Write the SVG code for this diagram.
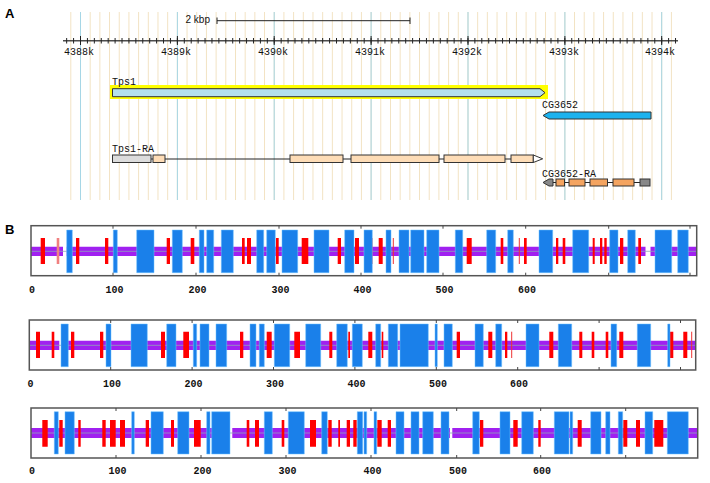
<svg xmlns="http://www.w3.org/2000/svg" width="710" height="483" viewBox="0 0 710 483">
<style>
.panel{font-family:"Liberation Sans",Arial,sans-serif;font-weight:bold;font-size:13px;fill:#000}
.lab{font-family:"Liberation Mono","DejaVu Sans Mono",monospace;font-size:10px;fill:#111}
.kb{font-family:"Liberation Sans",Arial,sans-serif;font-size:10px;fill:#111}
.num{font-family:"Liberation Mono","DejaVu Sans Mono",monospace;font-size:10px;font-weight:bold;fill:#111;text-anchor:middle}
.blg{stroke:#a6d6e6;stroke-width:1}
.ln{stroke:#222;stroke-width:1;fill:none}
.ex{stroke:#333;stroke-width:1}
.frame{fill:none;stroke:#555;stroke-width:1.5}
.pp{fill:#a020f0}
.cl{stroke:#8fa6b8;stroke-width:0.8}
.rd{fill:#f00}
.thin{stroke:#e33;stroke-width:1}
.bl{fill:#1a80ea;stroke:#6ec0ff;stroke-width:0.5}
.tk{stroke:#444;stroke-width:1}
</style>
<defs>
<pattern id="grid" patternUnits="userSpaceOnUse" x="80" y="0" width="9.687" height="10">
<rect x="0" y="0" width="1" height="10" fill="#f2e2c2"/>
</pattern>
<pattern id="ticks" patternUnits="userSpaceOnUse" x="80" y="0" width="6.919" height="10">
<rect x="0" y="0" width="1" height="10" fill="#222"/>
</pattern>
</defs>
<rect width="710" height="483" fill="#fff"/>

<!-- Panel A -->
<text class="panel" x="5" y="18">A</text>
<g id="grid-lines">
<rect x="70" y="12" width="604" height="188" fill="url(#grid)"/>
<line class="blg" x1="80.5" y1="12" x2="80.5" y2="200"/>
<line class="blg" x1="177.4" y1="12" x2="177.4" y2="200"/>
<line class="blg" x1="274.2" y1="12" x2="274.2" y2="200"/>
<line class="blg" x1="371.1" y1="12" x2="371.1" y2="200"/>
<line class="blg" x1="468" y1="12" x2="468" y2="200"/>
<line class="blg" x1="564.9" y1="12" x2="564.9" y2="200"/>
<line class="blg" x1="661.7" y1="12" x2="661.7" y2="200"/>
</g>
<g id="scale-bar">
<text class="kb" x="185.5" y="23">2 kbp</text>
<line class="ln" x1="217" y1="20.7" x2="410" y2="20.7"/>
<line class="ln" x1="217" y1="17.5" x2="217" y2="24"/>
<line class="ln" x1="410" y1="17.5" x2="410" y2="24"/>
</g>
<g id="ruler">
<rect x="63" y="38" width="615" height="5.5" fill="url(#ticks)"/>
<rect x="63" y="40.2" width="615" height="1.2" fill="#222"/>
<g class="ln">
<line x1="80.5" y1="36" x2="80.5" y2="45"/>
<line x1="177.4" y1="36" x2="177.4" y2="45"/>
<line x1="274.2" y1="36" x2="274.2" y2="45"/>
<line x1="371.1" y1="36" x2="371.1" y2="45"/>
<line x1="468" y1="36" x2="468" y2="45"/>
<line x1="564.9" y1="36" x2="564.9" y2="45"/>
<line x1="661.7" y1="36" x2="661.7" y2="45"/>
</g>
<g class="lab" text-anchor="middle">
<text x="79" y="55">4388k</text>
<text x="176" y="55">4389k</text>
<text x="273" y="55">4390k</text>
<text x="370" y="55">4391k</text>
<text x="467" y="55">4392k</text>
<text x="564" y="55">4393k</text>
<text x="660" y="55">4394k</text>
</g>
</g>
<g id="Tps1">
<rect x="110" y="85" width="438" height="14" fill="#ffff00"/>
<polygon class="ex" points="112.5,88.7 540,88.7 545,92.7 540,96.7 112.5,96.7" fill="#b4e0ec"/>
<text class="lab" x="112" y="85">Tps1</text>
</g>
<g id="CG3652">
<text class="lab" x="542" y="108">CG3652</text>
<polygon class="ex" points="543,115.5 549,112 651,112 651,119 549,119" fill="#1cb2ee"/>
</g>
<g id="Tps1-RA">
<text class="lab" x="112" y="152">Tps1-RA</text>
<line class="ln" x1="151" y1="159" x2="533" y2="159"/>
<rect class="ex" x="112.5" y="155" width="38.5" height="7.5" fill="#dcdcdc"/>
<g fill="#fddcb6">
<rect class="ex" x="153" y="155" width="12" height="7.5"/>
<rect class="ex" x="290" y="155" width="53" height="7.5"/>
<rect class="ex" x="351" y="155" width="88" height="7.5"/>
<rect class="ex" x="444" y="155" width="61" height="7.5"/>
<rect class="ex" x="511" y="155" width="22.3" height="7.5"/>
</g>
<polygon class="ex" points="533.3,155 542.7,158.8 533.3,162.5" fill="#fff"/>
</g>
<g id="CG3652-RA">
<text class="lab" x="542" y="177">CG3652-RA</text>
<line class="ln" x1="550" y1="182.5" x2="645" y2="182.5"/>
<polygon class="ex" points="543,182.5 549,179 553,179 553,186 549,186" fill="#888"/>
<g fill="#f4a460">
<rect class="ex" x="556" y="179" width="8.5" height="7"/>
<rect class="ex" x="569" y="179" width="16" height="7"/>
<rect class="ex" x="590" y="179" width="17.5" height="7"/>
<rect class="ex" x="613" y="179" width="21" height="7"/>
</g>
<rect class="ex" x="640" y="179" width="10" height="7" fill="#888"/>
</g>

<!-- Panel B -->
<text class="panel" x="5" y="234">B</text>

<g id="track1">
<rect x="31" y="225.7" width="665.7" height="50" fill="#fff"/>
<path class="pp" d="M31 246.7H63V256H31Z M66.7 246.7H645.5V256H66.7Z M650.5 246.7H696V256H650.5Z"/>
<line class="cl" x1="31" y1="251.3" x2="696" y2="251.3"/>
<rect x="56.7" y="238" width="2.6" height="26" fill="#f08080"/>
<path class="rd" d="M40.7 238H45V264H40.7Z M76 238H79.3V264H76Z M105 238H108.3V264H105Z M166.7 238H170V264H166.7Z M190.7 238H194.3V264H190.7Z M242 238H244.7V264H242Z M247 238H251V264H247Z M276 238H278.7V264H276Z M301.7 238H308.3V264H301.7Z M337.7 238H341V264H337.7Z M355 238H359V264H355Z M378.7 238H382.7V264H378.7Z M466.7 238H471.7V264H466.7Z M500.7 238H503.3V264H500.7Z M524 238H526.7V264H524Z M556 238H558.3V264H556Z M562.7 238H565.3V264H562.7Z M592.7 238H594.7V264H592.7Z M600 238H602.3V264H600Z M604.3 238H606.7V264H604.3Z M620 238H623.3V264H620Z M638.3 238H641V264H638.3Z"/>
<path class="thin" d="M372 238V264 M393.3 238V264 M519.3 238V264"/>
<path class="bl" d="M66.7 230H72.3V272.7H66.7Z M113.3 230H117.3V272.7H113.3Z M136.7 230H154V272.7H136.7Z M172.3 230H182.3V272.7H172.3Z M199.3 230H204V272.7H199.3Z M206.7 230H213.7V272.7H206.7Z M221.3 230H233.3V272.7H221.3Z M256.7 230H263.7V272.7H256.7Z M266.7 230H275.3V272.7H266.7Z M282 230H297.7V272.7H282Z M314 230H329V272.7H314Z M344.7 230H354V272.7H344.7Z M364 230H372.3V272.7H364Z M386 230H391V272.7H386Z M399 230H409V272.7H399Z M410.7 230H424V272.7H410.7Z M426.7 230H439V272.7H426.7Z M455.3 230H462.7V272.7H455.3Z M486.7 230H495.7V272.7H486.7Z M507.7 230H513.3V272.7H507.7Z M539 230H552.7V272.7H539Z M572.7 230H588.7V272.7H572.7Z M609.7 230H618V272.7H609.7Z M627.7 230H635.3V272.7H627.7Z M655 230H671.7V272.7H655Z M677.7 230H688.3V272.7H677.7Z"/>
<rect class="frame" x="31" y="225.7" width="665.7" height="50"/>
<path class="tk" d="M113 225.7v3M196 225.7v3M279 225.7v3M361 225.7v3M443 225.7v3M525.7 225.7v3M608.7 225.7v3M690 225.7v3 M113 275.7v-3M196 275.7v-3M279 275.7v-3M361 275.7v-3M443 275.7v-3M525.7 275.7v-3M608.7 275.7v-3M690 275.7v-3"/>
<g class="num">
<text x="32" y="293">0</text>
<text x="114.5" y="293">100</text>
<text x="197.5" y="293">200</text>
<text x="280.5" y="293">300</text>
<text x="362.5" y="293">400</text>
<text x="444.5" y="293">500</text>
<text x="527" y="293">600</text>
</g>
</g>

<g id="track2">
<rect x="29.3" y="320" width="666.4" height="50" fill="#fff"/>
<path class="pp" d="M29.3 340.7H59.3V350H29.3Z M61 340.7H695.7V350H61Z"/>
<line class="cl" x1="29.3" y1="345.3" x2="695.7" y2="345.3"/>
<path class="rd" d="M36 331.7H40V358H36Z M51.7 331.7H54.3V358H51.7Z M71 331.7H74.3V358H71Z M100 331.7H103.3V358H100Z M161 331.7H165V358H161Z M183.3 331.7H189V358H183.3Z M240 331.7H243.3V358H240Z M266.7 331.7H271.7V358H266.7Z M294.3 331.7H300V358H294.3Z M329.3 331.7H332.3V358H329.3Z M348.3 331.7H350V358H348.3Z M368.3 331.7H372.3V358H368.3Z M381.7 331.7H383.3V358H381.7Z M456.7 331.7H460V358H456.7Z M488.3 331.7H492.3V358H488.3Z M505 331.7H507.3V358H505Z M549.3 331.7H553.3V358H549.3Z M579.3 331.7H582.3V358H579.3Z M591.7 331.7H594.3V358H591.7Z M605.7 331.7H608.3V358H605.7Z M619.3 331.7H623.3V358H619.3Z M670 331.7H673.3V358H670Z M683.3 331.7H687.3V358H683.3Z"/>
<path class="thin" d="M511.7 331.7V358 M691.7 331.7V358"/>
<path class="bl" d="M61 324H68.3V366.7H61Z M106 324H111V366.7H106Z M131 324H147.3V366.7H131Z M166.7 324H176V366.7H166.7Z M193.3 324H196.7V366.7H193.3Z M200 324H209V366.7H200Z M216 324H226.7V366.7H216Z M250 324H256V366.7H250Z M259.3 324H264.3V366.7H259.3Z M274.3 324H289.7V366.7H274.3Z M305.7 324H320.7V366.7H305.7Z M336.7 324H347.3V366.7H336.7Z M352.3 324H362.3V366.7H352.3Z M375.7 324H380.7V366.7H375.7Z M388.3 324H397.7V366.7H388.3Z M400 324H428.3V366.7H400Z M435 324H437.3V366.7H435Z M444 324H452.3V366.7H444Z M475 324H483.3V366.7H475Z M495.7 324H501.7V366.7H495.7Z M526 324H539V366.7H526Z M558.3 324H571.7V366.7H558.3Z M611 324H616.7V366.7H611Z M637.3 324H650.7V366.7H637.3Z M667.7 324H670V366.7H667.7Z"/>
<rect class="frame" x="29.3" y="320" width="666.4" height="50"/>
<path class="tk" d="M110.7 320v3M192.1 320v3M273.5 320v3M354.9 320v3M436.3 320v3M517.7 320v3M599.1 320v3M680.5 320v3 M110.7 370v-3M192.1 370v-3M273.5 370v-3M354.9 370v-3M436.3 370v-3M517.7 370v-3M599.1 370v-3M680.5 370v-3"/>
<g class="num">
<text x="30.5" y="387">0</text>
<text x="112" y="387">100</text>
<text x="193.5" y="387">200</text>
<text x="275" y="387">300</text>
<text x="356.5" y="387">400</text>
<text x="438" y="387">500</text>
<text x="519" y="387">600</text>
</g>
</g>

<g id="track3">
<rect x="31" y="408" width="666.7" height="50" fill="#fff"/>
<path class="pp" d="M31 428H230V438H31Z M232.3 428H450V438H232.3Z M452.3 428H697.7V438H452.3Z"/>
<line class="cl" x1="31" y1="433" x2="697.7" y2="433"/>
<path class="rd" d="M42.3 420H47.7V446.7H42.3Z M59.3 420H62.7V446.7H59.3Z M78.3 420H80.7V446.7H78.3Z M102.3 420H105.7V446.7H102.3Z M110 420H115.7V446.7H110Z M120 420H125V446.7H120Z M145.7 420H149V446.7H145.7Z M171 420H174V446.7H171Z M194 420H200.7V446.7H194Z M246.7 420H249.3V446.7H246.7Z M255 420H259V446.7H255Z M281.7 420H284.3V446.7H281.7Z M310 420H316V446.7H310Z M328.3 420H331.7V446.7H328.3Z M338.3 420H340V446.7H338.3Z M346.7 420H350V446.7H346.7Z M353.3 420H356.7V446.7H353.3Z M377.3 420H381.7V446.7H377.3Z M387.7 420H391V446.7H387.7Z M480 420H483.3V446.7H480Z M513.3 420H517.7V446.7H513.3Z M538.3 420H540.7V446.7H538.3Z M577.7 420H581.7V446.7H577.7Z M623.3 420H627.3V446.7H623.3Z M636 420H640V446.7H636Z M654.3 420H663.3V446.7H654.3Z"/>
<path class="bl" d="M54.3 411.7H58.3V454H54.3Z M65 411.7H74.3V454H65Z M131.7 411.7H134.3V454H131.7Z M151 411.7H163.3V454H151Z M177.7 411.7H189V454H177.7Z M206.7 411.7H210V454H206.7Z M211.7 411.7H230V454H211.7Z M264.3 411.7H272.3V454H264.3Z M288.3 411.7H304.3V454H288.3Z M321.7 411.7H327.3V454H321.7Z M357.3 411.7H362.7V454H357.3Z M364 411.7H366.7V454H364Z M374 411.7H376.7V454H374Z M396 411.7H404V454H396Z M411 411.7H419V454H411Z M422.7 411.7H433.3V454H422.7Z M441 411.7H449V454H441Z M472.7 411.7H479.3V454H472.7Z M500 411.7H510V454H500Z M521.7 411.7H533.3V454H521.7Z M554.3 411.7H569V454H554.3Z M570 411.7H572.7V454H570Z M590.7 411.7H601V454H590.7Z M605.7 411.7H610V454H605.7Z M618.3 411.7H622.7V454H618.3Z M645 411.7H652.7V454H645Z M667.3 411.7H688.3V454H667.3Z"/>
<rect class="frame" x="31" y="408" width="666.7" height="50"/>
<path class="tk" d="M116 408v3M201 408v3M286 408v3M371 408v3M456.7 408v3M540.7 408v3M625.7 408v3 M116 458v-3M201 458v-3M286 458v-3M371 458v-3M456.7 458v-3M540.7 458v-3M625.7 458v-3"/>
<g class="num">
<text x="32" y="474">0</text>
<text x="117.5" y="474">100</text>
<text x="202.5" y="474">200</text>
<text x="287.5" y="474">300</text>
<text x="372.5" y="474">400</text>
<text x="458" y="474">500</text>
<text x="542" y="474">600</text>
</g>
</g>
</svg>
